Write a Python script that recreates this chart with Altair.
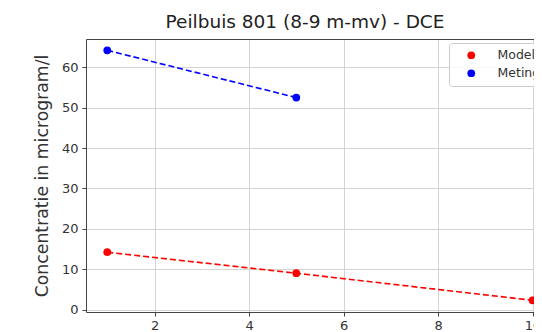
import altair as alt
import pandas as pd

series = ["Model", "Model", "Model", "Meting", "Meting"]
jaar = [1, 5, 10, 1, 5]
conc = [14.2, 9.0, 2.3, 64.2, 52.5]

df = pd.DataFrame({"serie": series, "x": jaar, "y": conc})

colors = alt.Scale(domain=["Model", "Meting"], range=["#ff0000", "#0000ff"])
xs = alt.Scale(domain=[0.55, 10.03], nice=False, zero=False)
ys = alt.Scale(domain=[-0.6, 67.0], nice=False, zero=False)

axis_common = dict(
    grid=True, gridColor="#d4d4d4", gridWidth=1,
    domainColor="#444444", tickColor="#444444", tickSize=4,
    labelFont="DejaVu Sans", labelFontSize=13, labelColor="#333333",
    titleFont="DejaVu Sans", titleFontWeight="normal", titleColor="#333333",
)

base = alt.Chart(df)

x_main = alt.X("x:Q", scale=xs,
               axis=alt.Axis(values=[2, 4, 6, 8, 10], title=None, labelPadding=3, **axis_common))
y_main = alt.Y("y:Q", scale=ys,
               axis=alt.Axis(values=[0, 10, 20, 30, 40, 50, 60], title="Concentratie in microgram/l",
                             titleFontSize=17.3, labelPadding=4, titlePadding=10, **axis_common))

line_model = base.transform_filter(alt.datum.serie == "Model").mark_line(
    strokeDash=[6, 3], strokeWidth=1.6, color="#ff0000").encode(x=x_main, y=y_main)

line_meting = base.transform_filter(alt.datum.serie == "Meting").mark_line(
    strokeDash=[6, 3], strokeWidth=1.6, color="#0000ff").encode(
    x=alt.X("x:Q", scale=xs, axis=None), y=alt.Y("y:Q", scale=ys))

points = base.mark_point(filled=True, size=60, opacity=1, shape="circle").encode(
    x=alt.X("x:Q", scale=xs, axis=None),
    y=alt.Y("y:Q", scale=ys),
    color=alt.Color("serie:N", scale=colors, sort=["Model", "Meting"],
                    legend=alt.Legend(title=None, orient="none", legendX=363, legendY=4,
                                      fillColor="rgba(255,255,255,0.85)", strokeColor="#cccccc",
                                      cornerRadius=3, padding=6, symbolOffset=10,
                                      labelOffset=20, rowPadding=5, symbolSize=60,
                                      symbolType="circle", labelFont="DejaVu Sans",
                                      labelFontSize=12.5, labelColor="#333333")),
)

topframe = base.mark_point(opacity=0).encode(
    x=alt.X("x:Q", scale=xs,
            axis=alt.Axis(orient="top", labels=False, ticks=False, grid=False, title=None,
                          domainColor="#444444")),
    y=alt.Y("y:Q", scale=ys),
)

chart = alt.layer(line_model, line_meting, points, topframe).resolve_axis(x="independent").properties(
    width=448, height=273,
    autosize=alt.AutoSizeParams(type="none"),
    padding={"left": 78, "top": 31, "right": 0, "bottom": 20},
    title=alt.TitleParams("Peilbuis 801 (8-9 m-mv) - DCE", font="DejaVu Sans", fontSize=18.5,
                          fontWeight="normal", color="#222222", dx=-5, offset=8),
).configure_view(stroke=None)

chart.save("out.html", embed_options={"renderer": "svg", "actions": False})
